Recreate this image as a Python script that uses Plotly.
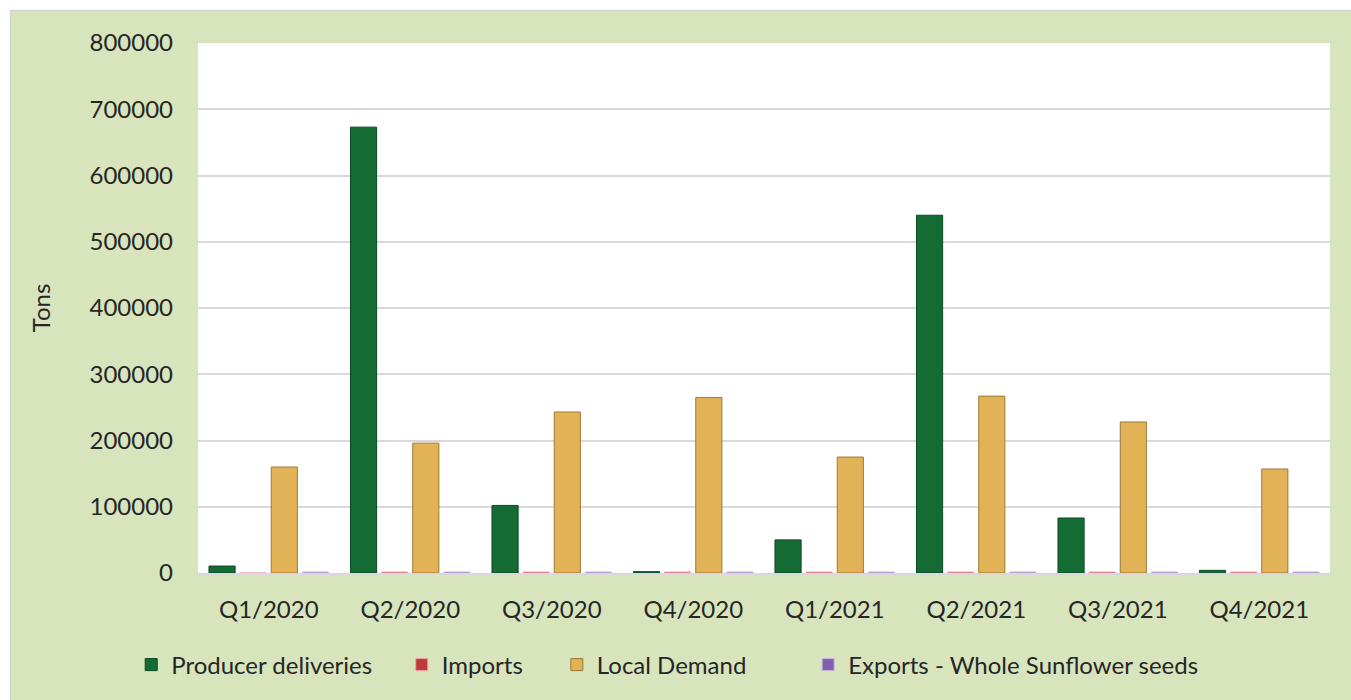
import plotly.graph_objects as go

quarters = ["Q1/2020", "Q2/2020", "Q3/2020", "Q4/2020",
            "Q1/2021", "Q2/2021", "Q3/2021", "Q4/2021"]

producer_deliveries = [10500, 673000, 102000, 2000, 50000, 540000, 83000, 4000]
imports = [0, 1500, 1500, 1500, 1500, 1500, 1500, 1500]
local_demand = [160000, 196000, 243000, 265000, 175000, 267000, 228000, 157000]
exports_whole_seeds = [1500, 1500, 1500, 1500, 1500, 1500, 1500, 1500]

y_ticks = [0, 100000, 200000, 300000, 400000, 500000, 600000, 700000, 800000]

# name, values, fill, edge, legend id, legend x (paper)
series = [
    ("Producer deliveries", producer_deliveries, "#156b34", "#0b4a22", "legend", -0.059),
    ("Imports", imports, "#c0393b", "#e9a3a4", "legend2", 0.180),
    ("Local Demand", local_demand, "#e2b257", "#9c7a33", "legend3", 0.317),
    ("Exports - Whole Sunflower seeds", exports_whole_seeds, "#7e5fa9", "#c8b6dd", "legend4", 0.539),
]

font_family = "Lato, 'Noto Sans', sans-serif"
text_color = "#262626"

fig = go.Figure()
for name, values, color, edge, legend_id, _ in series:
    fig.add_trace(go.Bar(
        x=quarters,
        y=values,
        name=name,
        legend=legend_id,
        marker=dict(color=color, line=dict(color=edge, width=1)),
    ))

# light green card behind the chart, with a thin grey border
fig.add_shape(
    type="rect", xref="paper", yref="paper",
    x0=-0.1656, x1=1.05, y0=-0.3, y1=1.0613,
    fillcolor="#d8e4bc", line=dict(color="#d4d4d4", width=1.5),
    layer="below",
)
# white plotting area on top of the card
fig.add_shape(
    type="rect", xref="paper", yref="paper",
    x0=0, x1=1, y0=0, y1=1,
    fillcolor="white", line=dict(width=0),
    layer="below",
)

legend_common = dict(
    orientation="h",
    xanchor="left",
    y=-0.1736, yanchor="middle",
    bgcolor="rgba(0,0,0,0)",
    font=dict(size=24, color=text_color),
    itemwidth=30,
)

fig.update_layout(
    width=1351, height=700,
    margin=dict(l=198, r=21, t=43, b=127),
    paper_bgcolor="white",
    plot_bgcolor="white",
    barmode="group",
    bargap=0.12,
    bargroupgap=0.16,
    font=dict(family=font_family, size=24, color=text_color),
    showlegend=True,
)
for name, values, color, edge, legend_id, lx in series:
    fig.update_layout({legend_id: dict(legend_common, x=lx)})

fig.update_xaxes(
    showgrid=False,
    showline=True, linecolor="#d9d9d9", linewidth=2,
    ticks="", ticklabelstandoff=14,
    tickfont=dict(size=24, color=text_color),
)

fig.update_yaxes(
    range=[0, 800000],
    tickvals=y_ticks,
    ticktext=[str(v) for v in y_ticks],
    showgrid=True, gridcolor="#d9d9d9", gridwidth=2,
    zeroline=False, showline=False,
    ticks="", ticklabelstandoff=24,
    tickfont=dict(size=24, color=text_color),
    title=dict(text="Tons", standoff=32, font=dict(size=24, color=text_color)),
)

fig.write_html("out.html")
